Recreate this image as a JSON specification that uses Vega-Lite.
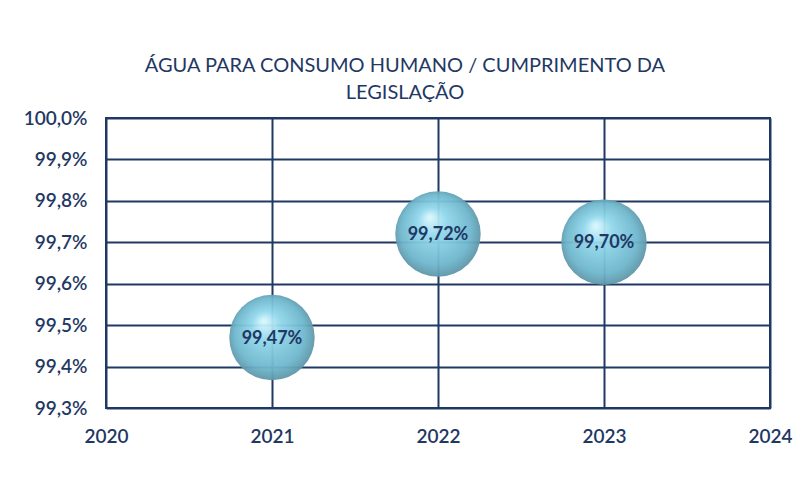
{
  "$schema": "https://vega.github.io/schema/vega-lite/v6.json",
  "width": 664,
  "height": 290,
  "autosize": "none",
  "padding": {"left": 106, "top": 118, "right": 26, "bottom": 70},
  "background": "white",
  "title": {
    "text": ["ÁGUA PARA CONSUMO HUMANO / CUMPRIMENTO DA", "LEGISLAÇÃO"],
    "font": "Lato",
    "fontSize": 20,
    "fontWeight": "normal",
    "color": "#1f3864",
    "lineHeight": 27,
    "anchor": "middle",
    "dx": -33,
    "offset": 6
  },
  "data": {
    "values": [
      {"ano": 2021, "valor": 99.47, "rotulo": "99,47%"},
      {"ano": 2022, "valor": 99.72, "rotulo": "99,72%"},
      {"ano": 2023, "valor": 99.70, "rotulo": "99,70%"}
    ]
  },
  "encoding": {
    "x": {
      "field": "ano", "type": "quantitative",
      "scale": {"domain": [2020, 2024], "nice": false, "zero": false},
      "axis": {
        "title": null, "values": [2020, 2021, 2022, 2023, 2024], "format": "d",
        "grid": true, "gridColor": "#1f3864", "gridWidth": 2, "gridOpacity": 1,
        "domain": false, "ticks": false, "labelPadding": 19, "labelFlush": false, "labelOverlap": false,
        "labelFont": "Lato", "labelFontSize": 19, "labelColor": "#1f3864", "labelFontWeight": 600
      }
    },
    "y": {
      "field": "valor", "type": "quantitative",
      "scale": {"domain": [99.3, 100.0], "nice": false, "zero": false},
      "axis": {
        "title": null, "values": [99.3, 99.4, 99.5, 99.6, 99.7, 99.8, 99.9, 100.0],
        "labelExpr": "replace(format(datum.value, '.1f'), '.', ',') + '%'",
        "grid": true, "gridColor": "#1f3864", "gridWidth": 2, "gridOpacity": 1,
        "domain": false, "ticks": false, "labelPadding": 19, "labelFlush": false, "labelOverlap": false,
        "labelFont": "Lato", "labelFontSize": 19, "labelColor": "#1f3864", "labelFontWeight": 600
      }
    }
  },
  "layer": [
    {
      "mark": {
        "type": "point", "shape": "circle", "filled": true, "size": 7300, "opacity": 0.95,
        "color": {
          "gradient": "radial",
          "x1": 0.4, "y1": 0.3, "r1": 0.0,
          "x2": 0.5, "y2": 0.5, "r2": 0.55,
          "stops": [
            {"offset": 0, "color": "#dcf8fd"},
            {"offset": 0.3, "color": "#92d8ec"},
            {"offset": 0.75, "color": "#6eb6cc"},
            {"offset": 1, "color": "#58899a"}
          ]
        }
      }
    },
    {
      "mark": {"type": "text", "font": "Lato", "fontSize": 18, "fontWeight": "bold", "color": "#1f3864", "dy": 1},
      "encoding": {"text": {"field": "rotulo"}}
    }
  ],
  "config": {
    "view": {"stroke": "#1f3864", "strokeWidth": 2}
  }
}
